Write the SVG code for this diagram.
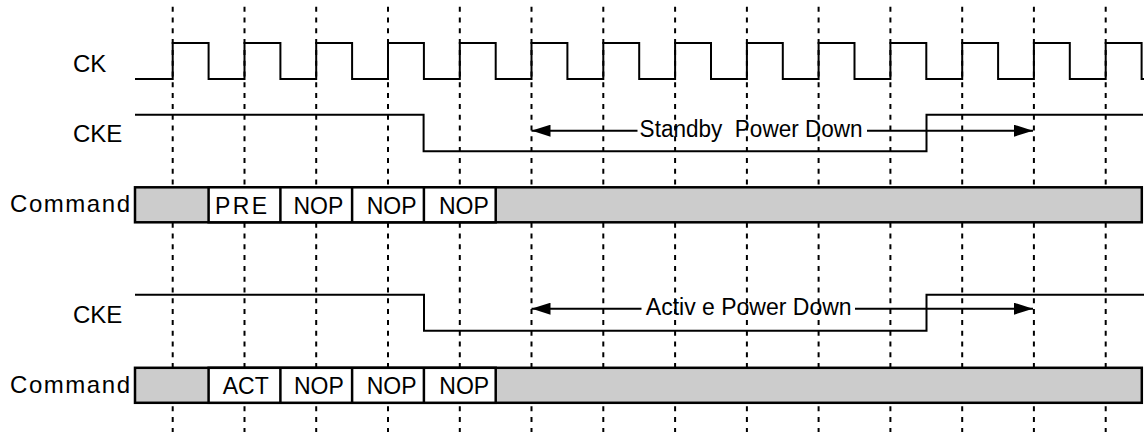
<svg xmlns="http://www.w3.org/2000/svg" width="1144" height="432" viewBox="0 0 1144 432">
<style>
text{font-family:"Liberation Sans",Arial,sans-serif;fill:#000}
.lbl{font-size:24px}
.cell{font-size:23px}
.arr{font-size:23px}
.grid line{stroke:#000;stroke-width:2;stroke-dasharray:5 5.8}
.wave{fill:none;stroke:#000;stroke-width:2}
.bar{fill:#cccccc;stroke:#000;stroke-width:2.5}
.wcell{fill:#fff;stroke:#000;stroke-width:2.5}
.div{stroke:#000;stroke-width:2.5}
.conn{stroke:#000;stroke-width:2;fill:none}
</style>
<defs>
<marker id="ah" viewBox="0 0 19 12" markerWidth="19" markerHeight="12" refX="19" refY="6" orient="auto-start-reverse" markerUnits="userSpaceOnUse">
<path d="M0,0 L19,6 L0,12 z" fill="#000"/>
</marker>
</defs>
<rect width="1144" height="432" fill="#fff"/>
<g id="grid" class="grid">
<line x1="172.7" y1="6.7" x2="172.7" y2="432"/>
<line x1="244.5" y1="6.7" x2="244.5" y2="432"/>
<line x1="316.2" y1="6.7" x2="316.2" y2="432"/>
<line x1="388" y1="6.7" x2="388" y2="432"/>
<line x1="459.8" y1="6.7" x2="459.8" y2="432"/>
<line x1="531.5" y1="6.7" x2="531.5" y2="432"/>
<line x1="603.3" y1="6.7" x2="603.3" y2="432"/>
<line x1="675.1" y1="6.7" x2="675.1" y2="432"/>
<line x1="746.9" y1="6.7" x2="746.9" y2="432"/>
<line x1="818.6" y1="6.7" x2="818.6" y2="432"/>
<line x1="890.4" y1="6.7" x2="890.4" y2="432"/>
<line x1="962.2" y1="6.7" x2="962.2" y2="432"/>
<line x1="1033.9" y1="6.7" x2="1033.9" y2="432"/>
<line x1="1105.7" y1="6.7" x2="1105.7" y2="432"/>
</g>
<g id="ck">
<text class="lbl" x="73" y="72">CK</text>
<path class="wave" d="M135,79 H172.7 V43 H208.6 V79 H244.5 V43 H280.4 V79 H316.2 V43 H352.1 V79 H388 V43 H423.9 V79 H459.8 V43 H495.7 V79 H531.5 V43 H567.4 V79 H603.3 V43 H639.2 V79 H675.1 V43 H711 V79 H746.9 V43 H782.8 V79 H818.6 V43 H854.5 V79 H890.4 V43 H926.3 V79 H962.2 V43 H998.1 V79 H1033.9 V43 H1069.8 V79 H1105.7 V43 H1141.6 V79 H1144"/>
</g>
<g id="cke1">
<text class="lbl" x="73" y="142">CKE</text>
<path class="wave" d="M135,114.7 H423.6 V151.3 H926.5 V114.7 H1143"/>
</g>
<g id="cmd1">
<text class="lbl" x="10" y="212" textLength="120" lengthAdjust="spacing">Command</text>
<rect class="bar" x="135" y="187.3" width="1006.8" height="35"/>
<rect class="wcell" x="208.6" y="187.3" width="287.1" height="35"/>
<line class="div" x1="280.4" y1="187.3" x2="280.4" y2="222.3"/>
<line class="div" x1="352.1" y1="187.3" x2="352.1" y2="222.3"/>
<line class="div" x1="423.9" y1="187.3" x2="423.9" y2="222.3"/>
<text class="cell" x="215" y="213.5" textLength="52" lengthAdjust="spacing">PRE</text>
<text class="cell" x="293.5" y="213.5">NOP</text>
<text class="cell" x="366.7" y="213.5">NOP</text>
<text class="cell" x="439" y="213.5">NOP</text>
</g>
<g id="cke2">
<text class="lbl" x="73" y="323">CKE</text>
<path class="wave" d="M135,294.7 H424 V330.7 H926.5 V294.7 H1144"/>
</g>
<g id="cmd2">
<text class="lbl" x="10" y="392.5" textLength="120" lengthAdjust="spacing">Command</text>
<rect class="bar" x="135" y="367.8" width="1006.8" height="35"/>
<rect class="wcell" x="208.6" y="367.8" width="287.1" height="35"/>
<line class="div" x1="280.4" y1="367.8" x2="280.4" y2="402.8"/>
<line class="div" x1="352.1" y1="367.8" x2="352.1" y2="402.8"/>
<line class="div" x1="423.9" y1="367.8" x2="423.9" y2="402.8"/>
<text class="cell" x="222.7" y="394">ACT</text>
<text class="cell" x="294" y="394">NOP</text>
<text class="cell" x="366.7" y="394">NOP</text>
<text class="cell" x="439.3" y="394">NOP</text>
</g>
<g id="connectors">
<line class="conn" x1="637.5" y1="130.7" x2="531.5" y2="130.7" marker-end="url(#ah)"/>
<line class="conn" x1="867" y1="130.7" x2="1033" y2="130.7" marker-end="url(#ah)"/>
<text class="arr" x="639.6" y="137" xml:space="preserve" textLength="223" lengthAdjust="spacingAndGlyphs">Standby  Power Down</text>
<line class="conn" x1="641.5" y1="308.7" x2="531.5" y2="308.7" marker-end="url(#ah)"/>
<line class="conn" x1="855" y1="308.7" x2="1033" y2="308.7" marker-end="url(#ah)"/>
<text class="arr" x="645.8" y="315" xml:space="preserve">Activ e Power Down</text>
</g>
</svg>
